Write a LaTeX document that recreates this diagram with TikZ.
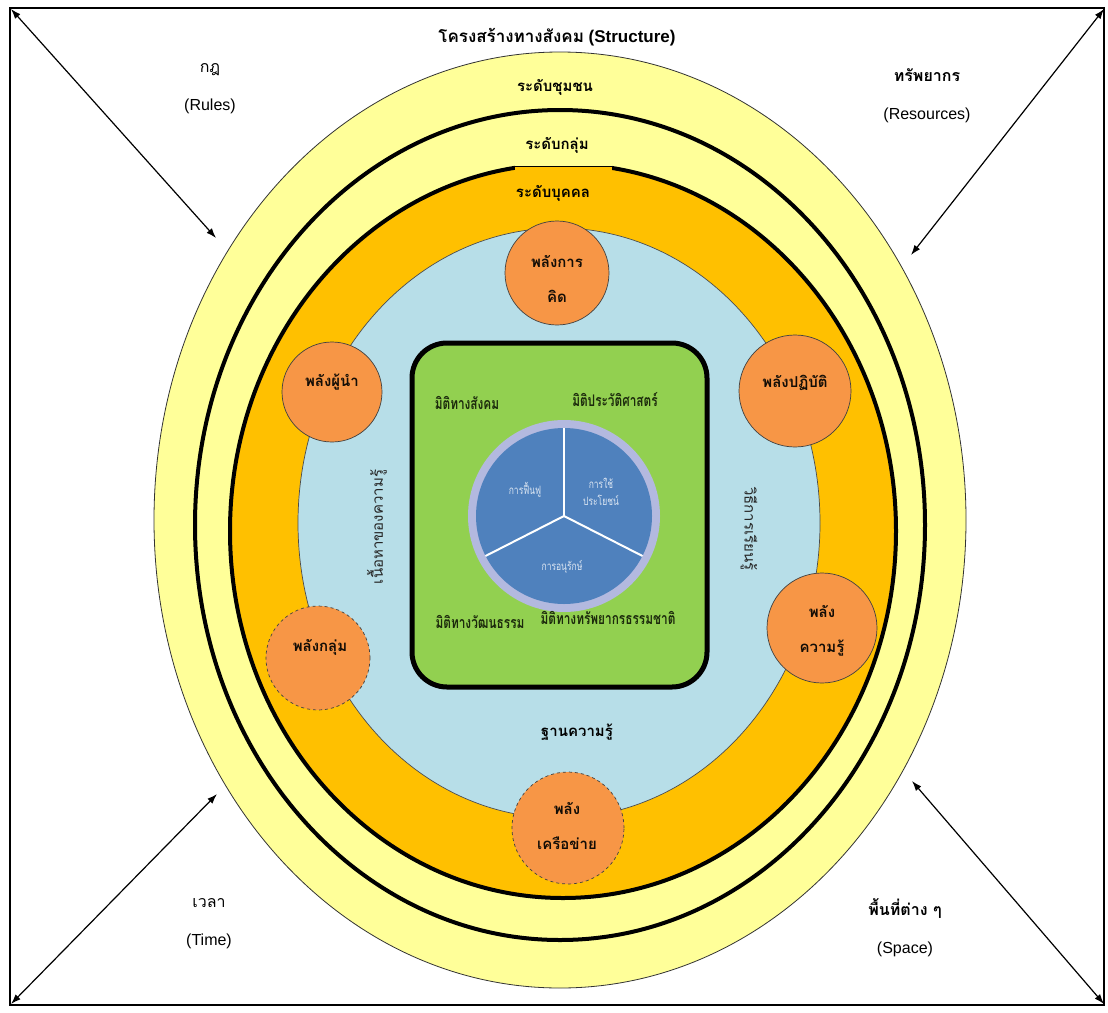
\documentclass[tikz,border=0pt]{standalone}
\usepackage{fontspec}
\setmainfont{Liberation Sans}
\newfontfamily\thai[Script=Thai]{Loma}
\newfontfamily\thaic[Script=Thai,FakeStretch=0.74]{Loma}
\usetikzlibrary{arrows.meta}
\definecolor{lyellow}{HTML}{FFFF99}
\definecolor{gold}{HTML}{FFC000}
\definecolor{lblue}{HTML}{B7DEE8}
\definecolor{lgreen}{HTML}{92D050}
\definecolor{porange}{HTML}{F79646}
\definecolor{pieblue}{HTML}{4F81BD}
\definecolor{ringc}{HTML}{B3B9DF}
\definecolor{pietext}{HTML}{DCE6F2}
\definecolor{dgreentext}{HTML}{1C2A0C}
\begin{document}
\begin{tikzpicture}[x=1pt,y=-1pt,
  arr/.style={{Latex[length=10pt,width=7pt]}-{Latex[length=10pt,width=7pt]}, line width=1.2pt},
  power/.style={circle, fill=porange, draw=black!75, line width=0.7pt, inner sep=0pt},
  powerdash/.style={power, dashed},
  ptext/.style={align=center, inner sep=0pt, text=black!90!brown, font=\thai\bfseries\fontsize{15}{35}\selectfont},
  lvl/.style={inner sep=0pt, font=\thai\bfseries\fontsize{15}{18}\selectfont},
  corner/.style={align=center, inner sep=0pt, font=\fontsize{16}{38}\selectfont},
  dim/.style={inner sep=0pt, text=dgreentext, font=\thaic\bfseries\fontsize{16}{18}\selectfont},
  pietxt/.style={align=center, inner sep=0pt, text=pietext, font=\thaic\fontsize{11.5}{17}\selectfont},
  vtext/.style={inner sep=0pt, text=black!85, font=\thai\fontsize{15}{18}\selectfont}
]
\useasboundingbox (0,0) rectangle (1108,1012);
\fill[white] (0,0) rectangle (1108,1012);
\draw[line width=1.2pt] (10,8) rectangle (1104,1005);

% rings
\draw[fill=lyellow, draw=black!80, line width=0.8pt] (560,520) ellipse [x radius=406pt, y radius=468pt];
\draw[fill=lyellow, line width=4pt] (560,525) ellipse [x radius=365pt, y radius=415pt];
\draw[fill=gold, line width=4pt] (563,531) ellipse [x radius=333pt, y radius=367pt];
\fill[lyellow] (515,158) rectangle (612,166);
\fill[gold] (515,166) rectangle (612,173);
\draw[line width=0.8pt] (515,166) -- (612,166);
\draw[fill=lblue, draw=black!70, line width=0.7pt] (559,523) ellipse [x radius=261pt, y radius=295pt];

% green box
\node[draw=black, line width=5pt, fill=lgreen, rounded corners=35pt, minimum width=295pt, minimum height=344pt, inner sep=0pt] (gbox) at (559.5,515) {};

% pie
\node[circle, fill=ringc, minimum size=192pt, inner sep=0pt] (pie) at (564,516) {};
\node[circle, fill=pieblue, minimum size=176pt, inner sep=0pt] (piein) at (pie.center) {};
\draw[white, line width=2pt] (piein.center) -- (piein.90);
\draw[white, line width=2pt] (piein.center) -- (piein.207);
\draw[white, line width=2pt] (piein.center) -- (piein.333);
\node[pietxt] (p1) at (525,490) {การฟื้นฟู};
\node[pietxt] (p2) at (601,492) {การใช้\\ประโยชน์};
\node[pietxt] (p3) at (562,567) {การอนุรักษ์};

% dimension labels
\node[dim] (d1) at (467,403) {มิติทางสังคม};
\node[dim] (d2) at (615,400) {มิติประวัติศาสตร์};
\node[dim] (d3) at (480,622) {มิติทางวัฒนธรรม};
\node[dim] (d4) at (608,618) {มิติทางทรัพยากรธรรมชาติ};

% power circles
\node[power, minimum size=104pt] (c1) at (557,273) {};
\node[power, minimum size=100pt] (c2) at (332,392) {};
\node[power, minimum size=112pt] (c3) at (795,391) {};
\node[power, minimum size=110pt] (c4) at (822,628) {};
\node[powerdash, minimum size=104pt] (c5) at (318,658) {};
\node[powerdash, minimum size=112pt] (c6) at (568,828) {};
\node[ptext] (t1) at (557,279) {พลังการ\\คิด};
\node[ptext] (t2) at (332,382) {พลังผู้นำ};
\node[ptext] (t3) at (795,383) {พลังปฏิบัติ};
\node[ptext] (t4) at (822,631) {พลัง\\ความรู้};
\node[ptext] (t5) at (320,647) {พลังกลุ่ม};
\node[ptext] (t6) at (567,826) {พลัง\\เครือข่าย};

% level labels
\node[inner sep=0pt, font=\bfseries\fontsize{17}{20}\selectfont] (title) at (557,37) {{\thai โครงสร้างทางสังคม} (Structure)};
\node[lvl] (l1) at (555,87) {ระดับชุมชน};
\node[lvl] (l2) at (557,145) {ระดับกลุ่ม};
\node[lvl] (l3) at (553,193) {ระดับบุคคล};
\node[lvl] (l4) at (577,732) {ฐานความรู้};

% vertical labels
\node[vtext, rotate=90] (v1) at (377,527) {เนื้อหาของความรู้};
\node[vtext, rotate=-90] (v2) at (749,529) {วิธีการเรียนรู้};

% corner labels
\node[corner] (k1) at (210,89) {{\thai กฎ}\\(Rules)};
\node[corner] (k2) at (927,96) {{\thai\bfseries ทรัพยากร}\\(Resources)};
\node[corner] (k3) at (209,924) {{\thai เวลา}\\(Time)};
\node[corner] (k4) at (905,928) {{\thai\bfseries พื้นที่ต่าง ๆ}\\(Space)};

% arrows
\coordinate (a1) at (11,9);
\coordinate (a2) at (216,238);
\coordinate (b1) at (1104,9);
\coordinate (b2) at (911,255);
\coordinate (e1) at (11,1004);
\coordinate (e2) at (217,794);
\coordinate (f1) at (912,781);
\coordinate (f2) at (1104,1004);
\draw[arr] (a1) -- (a2);
\draw[arr] (b1) -- (b2);
\draw[arr] (e1) -- (e2);
\draw[arr] (f1) -- (f2);
\end{tikzpicture}
\end{document}
